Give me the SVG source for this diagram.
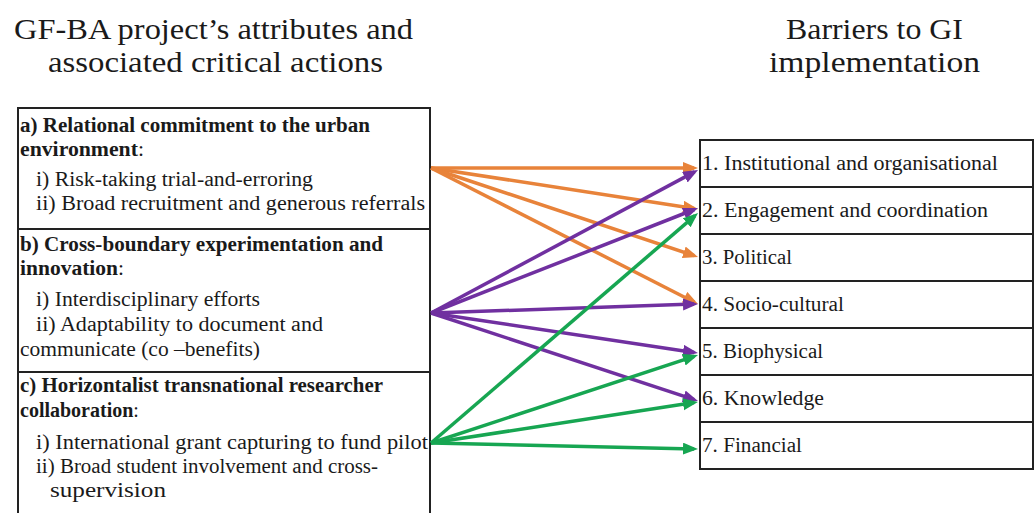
<svg xmlns="http://www.w3.org/2000/svg" width="1036" height="513" viewBox="0 0 1036 513">
<style>
.title{font-family:"Liberation Serif","Times New Roman",serif;font-size:30px;fill:#1a1a1a}
.t{font-family:"Liberation Serif","Times New Roman",serif;font-size:20px;fill:#1a1a1a}
.b{font-weight:bold}
.box{fill:#fff;stroke:#222;stroke-width:2}
.c{fill:none;stroke-width:3.5}
.o{stroke:#E8833A}
.p{stroke:#7030A0}
.g{stroke:#17A652}
</style>
<defs>
<marker id="mo" markerUnits="userSpaceOnUse" markerWidth="16" markerHeight="13" refX="11" refY="6" orient="auto"><path d="M0,0 L15,6 L0,12 z" fill="#E8833A"/></marker>
<marker id="mp" markerUnits="userSpaceOnUse" markerWidth="16" markerHeight="13" refX="11" refY="6" orient="auto"><path d="M0,0 L15,6 L0,12 z" fill="#7030A0"/></marker>
<marker id="mg" markerUnits="userSpaceOnUse" markerWidth="16" markerHeight="13" refX="11" refY="6" orient="auto"><path d="M0,0 L15,6 L0,12 z" fill="#17A652"/></marker>
</defs>
<rect width="1036" height="513" fill="#fff"/>
<g id="titles">
<text class="title" x="14" y="39" textLength="399" lengthAdjust="spacingAndGlyphs">GF-BA project’s attributes and</text>
<text class="title" x="48" y="72" textLength="335" lengthAdjust="spacingAndGlyphs">associated critical actions</text>
<text class="title" x="786" y="39" textLength="177" lengthAdjust="spacingAndGlyphs">Barriers to GI</text>
<text class="title" x="769" y="72" textLength="211" lengthAdjust="spacingAndGlyphs">implementation</text>
</g>
<g id="attr-a">
<rect class="box" x="18" y="108" width="412" height="121"/>
<text class="t" x="20" y="132" textLength="350" lengthAdjust="spacingAndGlyphs"><tspan class="b">a) Relational commitment to the urban</tspan></text>
<text class="t" x="20" y="156" textLength="124" lengthAdjust="spacingAndGlyphs"><tspan class="b">environment</tspan>:</text>
<text class="t" x="36" y="186" textLength="277" lengthAdjust="spacingAndGlyphs">i) Risk-taking trial-and-erroring</text>
<text class="t" x="36" y="210" textLength="389" lengthAdjust="spacingAndGlyphs">ii) Broad recruitment and generous referrals</text>
</g>
<g id="attr-b">
<rect class="box" x="18" y="229" width="412" height="143"/>
<text class="t" x="20" y="251" textLength="363" lengthAdjust="spacingAndGlyphs"><tspan class="b">b) Cross-boundary experimentation and</tspan></text>
<text class="t" x="20" y="275" textLength="104" lengthAdjust="spacingAndGlyphs"><tspan class="b">innovation</tspan>:</text>
<text class="t" x="36" y="306" textLength="224" lengthAdjust="spacingAndGlyphs">i) Interdisciplinary efforts</text>
<text class="t" x="36" y="331" textLength="287" lengthAdjust="spacingAndGlyphs">ii) Adaptability to document and</text>
<text class="t" x="20" y="356" textLength="240" lengthAdjust="spacingAndGlyphs">communicate (co –benefits)</text>
</g>
<g id="attr-c">
<rect class="box" x="18" y="372" width="412" height="160"/>
<text class="t" x="20" y="392" textLength="363" lengthAdjust="spacingAndGlyphs"><tspan class="b">c) Horizontalist transnational researcher</tspan></text>
<text class="t" x="20" y="417"><tspan class="b">collaboration</tspan>:</text>
<text class="t" x="36" y="449" textLength="392" lengthAdjust="spacingAndGlyphs">i) International grant capturing to fund pilot</text>
<text class="t" x="36" y="473" textLength="342" lengthAdjust="spacingAndGlyphs">ii) Broad student involvement and cross-</text>
<text class="t" x="50" y="497" textLength="116" lengthAdjust="spacingAndGlyphs">supervision</text>
</g>
<g id="barrier-1"><rect class="box" x="700" y="140" width="333" height="47"/><text class="t" x="702" y="170" textLength="296" lengthAdjust="spacingAndGlyphs">1. Institutional and organisational</text></g>
<g id="barrier-2"><rect class="box" x="700" y="187" width="333" height="47"/><text class="t" x="702" y="217" textLength="286" lengthAdjust="spacingAndGlyphs">2. Engagement and coordination</text></g>
<g id="barrier-3"><rect class="box" x="700" y="234" width="333" height="47"/><text class="t" x="702" y="264" textLength="90" lengthAdjust="spacingAndGlyphs">3. Political</text></g>
<g id="barrier-4"><rect class="box" x="700" y="281" width="333" height="47"/><text class="t" x="702" y="311" textLength="142" lengthAdjust="spacingAndGlyphs">4. Socio-cultural</text></g>
<g id="barrier-5"><rect class="box" x="700" y="328" width="333" height="47"/><text class="t" x="702" y="358" textLength="121" lengthAdjust="spacingAndGlyphs">5. Biophysical</text></g>
<g id="barrier-6"><rect class="box" x="700" y="375" width="333" height="47"/><text class="t" x="702" y="405" textLength="122" lengthAdjust="spacingAndGlyphs">6. Knowledge</text></g>
<g id="barrier-7"><rect class="box" x="700" y="422" width="333" height="47"/><text class="t" x="702" y="452" textLength="100" lengthAdjust="spacingAndGlyphs">7. Financial</text></g>
<g id="connectors">
<line class="c o" x1="431" y1="168" x2="694" y2="168" marker-end="url(#mo)"/>
<line class="c o" x1="431" y1="168" x2="694.05" y2="208.4" marker-end="url(#mo)"/>
<line class="c o" x1="431" y1="168" x2="694.2" y2="255.7" marker-end="url(#mo)"/>
<line class="c o" x1="431" y1="168" x2="694.4" y2="302.2" marker-end="url(#mo)"/>
<line class="c p" x1="431" y1="313" x2="694.5" y2="171.9" marker-end="url(#mp)"/>
<line class="c p" x1="431" y1="313" x2="694.3" y2="209.5" marker-end="url(#mp)"/>
<line class="c p" x1="431" y1="313" x2="694" y2="304.1" marker-end="url(#mp)"/>
<line class="c p" x1="431" y1="313" x2="694" y2="352.4" marker-end="url(#mp)"/>
<line class="c p" x1="431" y1="313" x2="694.2" y2="399.7" marker-end="url(#mp)"/>
<line class="c g" x1="431" y1="443" x2="695" y2="215.6" marker-end="url(#mg)"/>
<line class="c g" x1="431" y1="443" x2="694.2" y2="356.3" marker-end="url(#mg)"/>
<line class="c g" x1="431" y1="443" x2="694" y2="402.6" marker-end="url(#mg)"/>
<line class="c g" x1="431" y1="443" x2="694" y2="448.9" marker-end="url(#mg)"/>
</g>
</svg>
